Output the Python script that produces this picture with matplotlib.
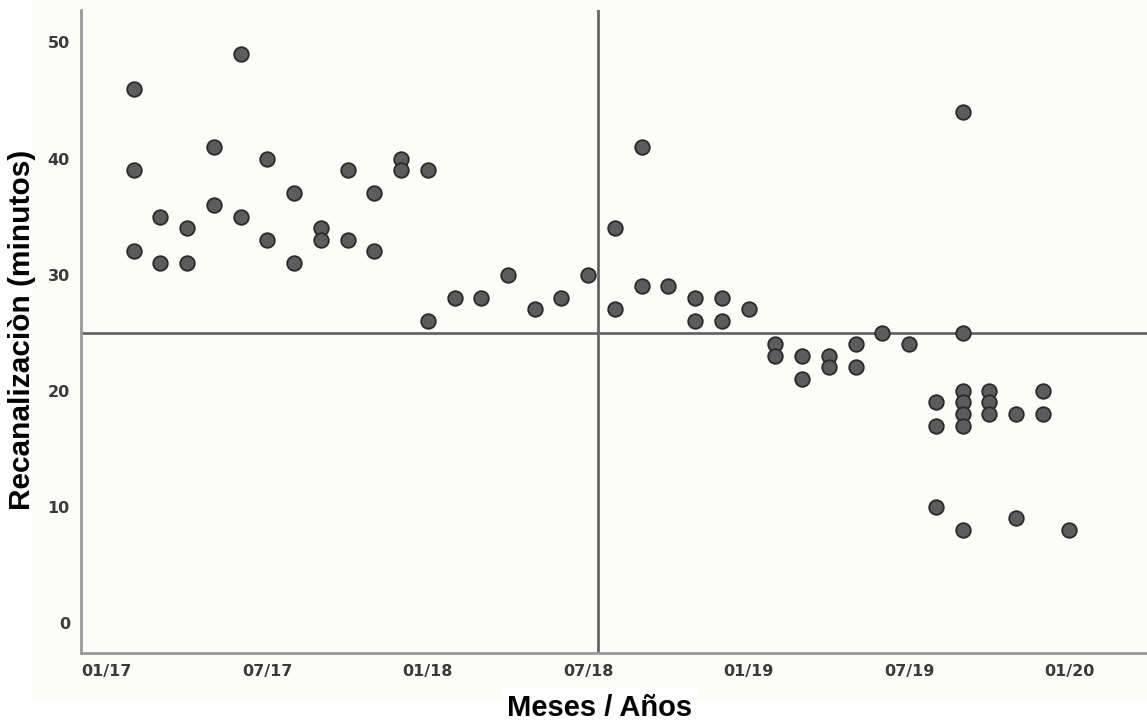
import matplotlib.pyplot as plt
from matplotlib.patches import Rectangle

# month index (0 = 01/17) and recanalization time in minutes
meses = [1, 1, 1, 2, 2, 3, 3, 4, 4, 5, 5, 6, 6, 7, 7, 8, 8, 9, 9, 10, 10,
         11, 11, 12, 12, 13, 14, 15, 16, 17, 18, 19, 19, 20, 20, 21, 22, 22,
         23, 23, 24, 25, 25, 26, 26, 27, 27, 28, 28, 29, 30,
         31, 31, 31, 32, 32, 32, 32, 32, 32, 32, 33, 33, 33, 34, 34, 35, 35, 36]
minutos = [46, 39, 32, 35, 31, 34, 31, 41, 36, 49, 35, 40, 33, 37, 31, 34, 33, 39, 33, 37, 32,
           40, 39, 39, 26, 28, 28, 30, 27, 28, 30, 34, 27, 41, 29, 29, 28, 26,
           28, 26, 27, 24, 23, 23, 21, 23, 22, 24, 22, 25, 24,
           19, 17, 10, 44, 25, 20, 19, 18, 17, 8, 20, 19, 18, 18, 9, 20, 18, 8]

tick_pos = [0, 6, 12, 18, 24, 30, 36]
tick_labels = ["01/17", "07/17", "01/18", "07/18", "01/19", "07/19", "01/20"]
y_ticks = [0, 10, 20, 30, 40, 50]

corte_mes = 18.38
corte_min = 25

fig = plt.figure(figsize=(11.47, 7.26), dpi=100, facecolor="white")
fig.patches.append(Rectangle((32 / 1147, 26 / 726), 1 - 32 / 1147, 1 - 26 / 726,
                             transform=fig.transFigure, facecolor="#fdfdf8",
                             edgecolor="none", zorder=-10))

ax = fig.add_axes([81 / 1147, (726 - 653) / 726, 1 - 81 / 1147, (653 - 10) / 726])
ax.set_facecolor("#fdfdf8")

ax.axhline(corte_min, color="#666666", lw=2, zorder=1)
ax.axvline(corte_mes, color="#666666", lw=2, zorder=1)

ax.scatter(meses, minutos, s=110, facecolor="#5c5c5c", edgecolor="#2a2a2a",
           linewidth=1.3, zorder=3)

ax.set_xlim(-0.97, 38.9)
ax.set_ylim(-2.6, 52.8)
ax.set_xticks(tick_pos)
ax.set_xticklabels(tick_labels)
ax.set_yticks(y_ticks)

for s in ["top", "right"]:
    ax.spines[s].set_visible(False)
for s in ["left", "bottom"]:
    ax.spines[s].set_color("#999999")
    ax.spines[s].set_linewidth(2)

ax.tick_params(length=0, labelsize=11.5, labelcolor="#3a3a3a", pad=8)
for lab in ax.get_xticklabels() + ax.get_yticklabels():
    lab.set_fontweight("bold")

fig.text(22 / 1147, 1 - 330 / 726, "Recanalizaciòn (minutos)", rotation=90,
         ha="center", va="center", fontsize=21.5, fontweight="bold",
         family="Liberation Sans")
fig.text(600 / 1147, 1 - 708 / 726, "Meses / Años", ha="center", va="center",
         fontsize=21, fontweight="bold", family="Liberation Sans",
         bbox=dict(facecolor="white", edgecolor="none", pad=4))

fig.savefig("out.png", dpi=100)
